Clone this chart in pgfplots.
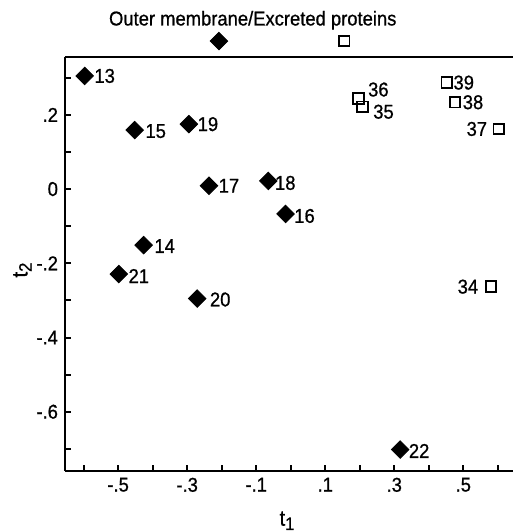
\documentclass[border=0pt]{standalone}
\usepackage{fontspec}
\setmainfont{Liberation Sans}[FakeStretch=0.92, FakeBold=0.8]
\usepackage{pgfplots}
\pgfplotsset{compat=1.18}
\usepackage{pgfplotstable}

\pgfplotstableread{
x y label dx dy
-0.597 0.305 13 10 0
-0.452 0.159 15 10.5 -0.5
-0.295 0.175 19 9.5 0
-0.237 0.009 17 10 0
-0.065 0.022 18 8.5 -1
-0.015 -0.067 16 9.5 -1
-0.426 -0.151 14 10.5 -0.5
-0.498 -0.229 21 10 -1
-0.271 -0.295 20 11.5 -0.5
0.317 -0.702 22 9.5 -0.7
}\diam

\pgfplotstableread{
x y label dx dy
0.196 0.244 36 10 4.5
0.208 0.222 35 10.5 -2.5
0.452 0.287 39 8.5 0
0.476 0.234 38 9 0
0.603 0.162 37 -11 0
0.580 -0.263 34 -11.5 0
}\squ

\newcommand\myfont{\fontsize{10}{12}\selectfont}

\pgfplotsset{labelled/.style={
  nodes near coords, point meta=explicit symbolic,
  nodes near coords align={center},
  visualization depends on={\thisrow{dx} \as \dx},
  visualization depends on={\thisrow{dy} \as \dy},
  nodes near coords style={font=\myfont, anchor=center, inner sep=0pt, xshift=\dx pt, yshift=\dy pt},
}}

\begin{document}
\begin{tikzpicture}
\begin{axis}[name=ax, scale only axis, width=224pt, height=206.85pt,
  xmin=-0.654, xmax=0.644, ymin=-0.759, ymax=0.356,
  axis lines=left, axis line style={-, line width=1pt},
  tick align=inside, major tick length=3pt,
  every tick/.style={black, line width=1pt},
  xtick={-0.6,-0.5,-0.4,-0.3,-0.2,-0.1,0,0.1,0.2,0.3,0.4,0.5,0.6},
  xticklabels={{},{-.5},{},{-.3},{},{-.1},{},{.1},{},{.3},{},{.5},{}},
  ytick={-0.7,-0.6,-0.5,-0.4,-0.3,-0.2,-0.1,0,0.1,0.2,0.3},
  yticklabels={{},{-.6},{},{-.4},{},{-.2},{},{0},{},{.2},{}},
  every tick label/.append style={font=\myfont},
  label style={font=\fontsize{11}{13}\selectfont},
  xlabel={t{\fontsize{9}{10}\selectfont\raisebox{-0.45ex}{1}}}, ylabel={t{\fontsize{9}{10}\selectfont\raisebox{-0.45ex}{2}}},
  xlabel style={at={(axis description cs:0.4955,0)}, anchor=center, yshift=-25pt},
  ylabel style={at={(axis description cs:-0.095,0.485)}, anchor=center},
  clip=false,
]
\addplot[only marks, mark=square*, mark size=3.1pt, mark options={rotate=45, fill=black, draw=black},
  labelled] table[x=x, y=y, meta=label] {\diam};
\addplot[only marks, mark=square, mark size=2.65pt, mark options={draw=black, line width=0.9pt},
  labelled] table[x=x, y=y, meta=label] {\squ};
\addplot[only marks, mark=square*, mark size=3.1pt, mark options={rotate=45, fill=black, draw=black}]
  coordinates {(-0.208,0.399)};
\addplot[only marks, mark=square, mark size=2.65pt, mark options={draw=black, line width=0.9pt}]
  coordinates {(0.155,0.399)};
\node[font=\myfont] at (axis cs:-0.11,0.455) {Outer membrane/Excreted proteins};
\draw[line width=1pt] (rel axis cs:0,1) -- (rel axis cs:1,1);
\end{axis}
\pgfresetboundingbox
\path[use as bounding box] (ax.south west) ++(-32.5pt,-30.65pt) rectangle ([shift={(0pt,28.5pt)}]ax.north east);
\end{tikzpicture}
\end{document}
